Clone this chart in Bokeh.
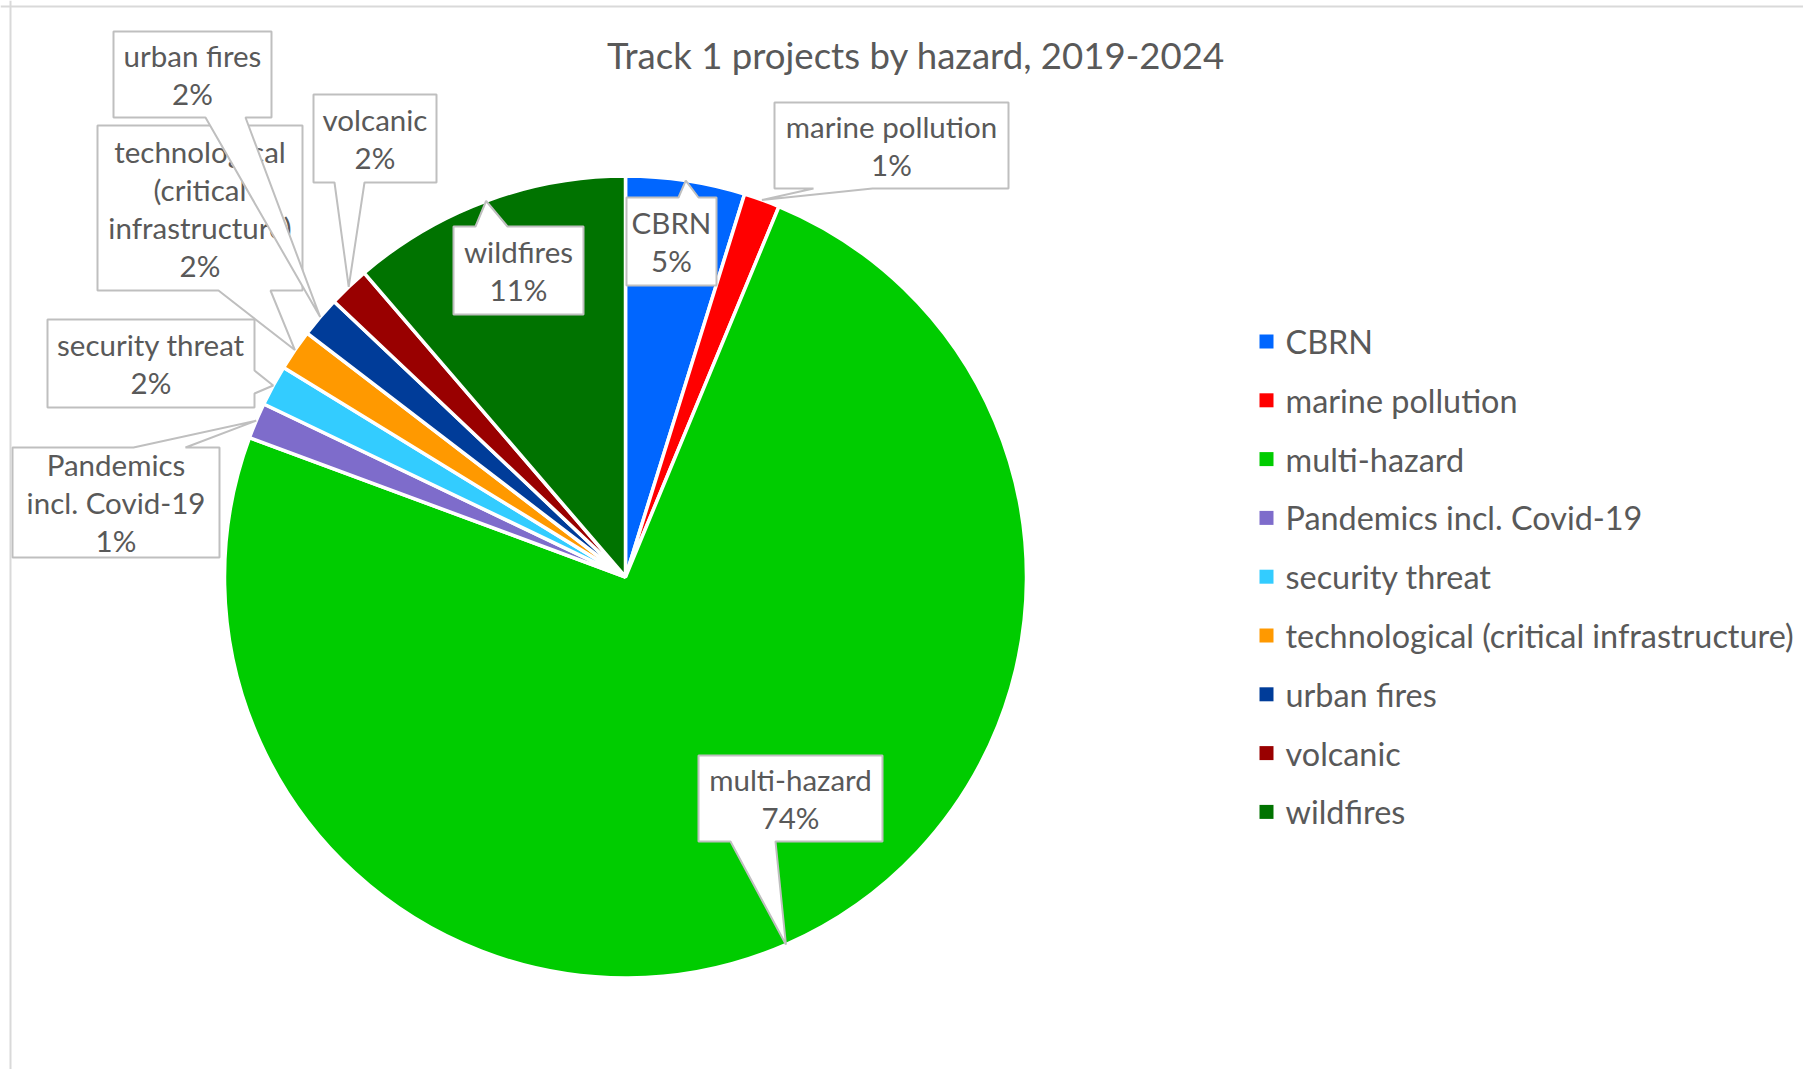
import math
from bokeh.plotting import figure
from bokeh.models import Range1d, Span
from bokeh.embed import file_html
from bokeh.resources import INLINE
from bokeh.core.properties import value

# ---------------- data ----------------
categories = ["CBRN", "marine pollution", "multi-hazard", "Pandemics incl. Covid-19",
              "security threat", "technological (critical infrastructure)",
              "urban fires", "volcanic", "wildfires"]
shares = [4.8, 1.45, 74.4, 1.45, 1.65, 1.65, 1.65, 1.65, 11.3]   # percent of projects
label_names = ["CBRN", "marine pollution", "multi-hazard", "Pandemics\nincl. Covid-19",
               "security threat", "technological\n(critical\ninfrastructure)",
               "urban fires", "volcanic", "wildfires"]
title_text = "Track 1 projects by hazard, 2019-2024"

# ---------------- styles ----------------
colors = ["#0066FF", "#FF0000", "#00CC00", "#7E6CCB", "#33CCFF", "#FF9900",
          "#003C99", "#990000", "#007300"]
FONT = "Lato"
TXT = "#595959"
W, H = 1803, 1069
CX, CY, R = 625, 576.5, 401
LABEL_FS = 29.5
LINE_SP = 38
LEG_FS = 32.4
TITLE_FS = 36.6

# callout layout: box (x0, y0, x1, y1) in page px, side of pointer, pointer base
callouts = [
    ((626, 197, 716, 285), "top", (678, 698)),
    ((774, 102, 1008, 188), "bottom", (813, 872)),
    ((698, 755, 882, 841), "bottom", (730, 775)),
    ((12, 447, 219, 557), "top", (133, 185)),
    ((47, 319, 254, 407), "right", (370, 393)),
    ((97, 125, 302, 290), "bottom", (218, 270)),
    ((113, 31, 271, 117), "bottom", (205, 245)),
    ((313, 94, 436, 182), "bottom", (334, 364)),
    ((453, 226, 583, 314), "top", (475, 507)),
]

p = figure(width=W, height=H, output_backend="svg", toolbar_location=None,
           x_range=Range1d(0, W), y_range=Range1d(H, 0),
           x_axis_location=None, y_axis_location=None, min_border=0,
           background_fill_color="white", border_fill_color="white")
p.grid.visible = False
p.outline_line_color = None

# frame lines (top and left)
p.add_layout(Span(location=6, dimension="width", line_color="#d9d9d9", line_width=2))
p.add_layout(Span(location=10, dimension="height", line_color="#d9d9d9", line_width=2))

# title
p.text(x=[915.5], y=[54], text=[title_text], text_font=value(FONT),
       text_font_size=f"{TITLE_FS}px",
       text_color=TXT, text_align="center", text_baseline="middle")

# pie
total = sum(shares)
starts, ends, mids = [], [], []
cum = 0.0
for s in shares:
    a0 = math.pi / 2 - 2 * math.pi * cum / total
    a1 = math.pi / 2 - 2 * math.pi * (cum + s) / total
    starts.append(a0)
    ends.append(a1)
    mids.append((a0 + a1) / 2)
    cum += s

p.wedge(x=[CX] * len(shares), y=[CY] * len(shares), radius=R,
        start_angle=starts, end_angle=ends, direction="clock",
        fill_color=colors, line_color="white", line_width=3.5)

# callouts
for i, (box, side, base) in enumerate(callouts):
    x0, y0, x1, y1 = box
    tx = CX + R * math.cos(mids[i])
    ty = CY - R * math.sin(mids[i])
    xs, ys = [x0], [y0]
    if side == "top":
        xs += [base[0], tx, base[1]]; ys += [y0, ty, y0]
    xs.append(x1); ys.append(y0)
    if side == "right":
        xs += [x1, tx, x1]; ys += [base[0], ty, base[1]]
    xs.append(x1); ys.append(y1)
    if side == "bottom":
        xs += [base[1], tx, base[0]]; ys += [y1, ty, y1]
    xs.append(x0); ys.append(y1)
    p.patch(xs, ys, fill_color="white", line_color="#bfbfbf", line_width=2)
    lines = label_names[i].split("\n") + [f"{round(shares[i])}%"]
    n = len(lines)
    bcx = (x0 + x1) / 2
    bcy = (y0 + y1) / 2
    ly = [bcy + (j - (n - 1) / 2) * LINE_SP for j in range(n)]
    p.text(x=[bcx] * n, y=ly, text=lines, text_font=value(FONT),
           text_font_size=f"{LABEL_FS}px", text_color=TXT,
           text_align="center", text_baseline="middle")

# legend
LEG_X, LEG_Y0, LEG_DY = 1266, 341, 58.8
leg_y = [LEG_Y0 + k * LEG_DY for k in range(len(categories))]
p.scatter(x=[LEG_X] * len(categories), y=leg_y, marker="square", size=14,
          fill_color=colors, line_color=None)
p.text(x=[1285] * len(categories), y=leg_y, text=categories,
       text_font=value(FONT), text_font_size=f"{LEG_FS}px", text_color=TXT,
       text_align="left", text_baseline="middle")

open("out.html", "w").write(file_html(p, INLINE))
